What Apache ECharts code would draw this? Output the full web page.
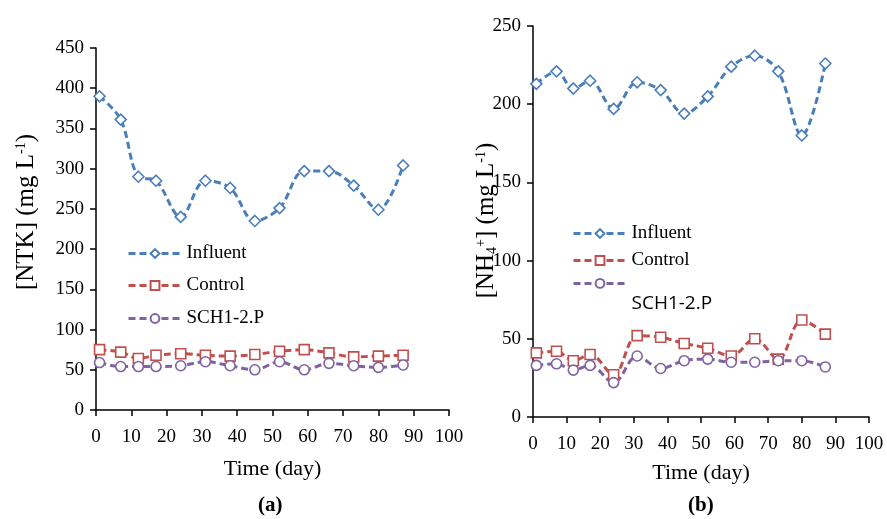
<!DOCTYPE html>
<html>
<head>
<meta charset="utf-8">
<script src="https://cdn.jsdelivr.net/npm/echarts@6/dist/echarts.min.js"></script>
<style>
  html, body { margin: 0; padding: 0; background: #fff; }
  #chart { width: 887px; height: 519px; }
</style>
</head>
<body>
<div id="chart"></div>
<script>
  // sampling days (x), same for both panels
  var days = [1, 7, 12, 17, 24, 31, 38, 45, 52, 59, 66, 73, 80, 87];
  // (a) NTK, mg/L
  var ntkInfluent = [390, 361, 290, 285, 240, 285, 276, 235, 251, 297, 297, 279, 249, 304];
  var ntkControl = [75, 72, 64, 68, 70, 68, 67, 69, 73, 75, 71, 66, 67, 68];
  var ntkSch = [59, 54, 54, 54, 55, 60, 55, 50, 60, 50, 58, 55, 53, 56];
  // (b) NH4+, mg/L
  var nhInfluent = [213, 221, 210, 215, 197, 214, 209, 194, 205, 224, 231, 221, 180, 226];
  var nhControl = [41, 42, 36, 40, 27, 52, 51, 47, 44, 39, 50, 37, 62, 53];
  var nhSch = [33, 34, 30, 33, 22, 39, 31, 36, 37, 35, 35, 36, 36, 32];

  var serif = '"Liberation Serif", "Times New Roman", serif';
  var blue = '#4a7ebb', red = '#c0504d', purple = '#7f63a1';
  var dash = [7, 4];

  function pairs(ys) {
    return days.map(function (d, i) { return [d, ys[i]]; });
  }

  function line(name, ys, color, symbol, size, idx) {
    return {
      name: name,
      type: 'line',
      xAxisIndex: idx,
      yAxisIndex: idx,
      data: pairs(ys),
      smooth: 0.35,
      symbol: symbol,
      symbolSize: size,
      color: color,
      lineStyle: { color: color, width: 3, type: dash },
      itemStyle: { color: '#fff', borderColor: color, borderWidth: 1.6 },
      emphasis: { disabled: true },
      animation: false
    };
  }

  function xAxis(idx) {
    return {
      type: 'value', gridIndex: idx, min: 0, max: 100, interval: 10,
      name: 'Time (day)', nameLocation: 'middle', nameGap: idx === 0 ? 48 : 45,
      nameTextStyle: { fontFamily: serif, fontSize: 22, color: '#000' },
      axisLine: { lineStyle: { color: '#000', width: 1.5 } },
      axisTick: { show: true, length: 6, lineStyle: { color: '#000', width: 1.5 } },
      axisLabel: { fontFamily: serif, fontSize: 19, color: '#000', margin: 18 },
      splitLine: { show: false }
    };
  }

  function yAxis(idx, max, name, gap, shiftUp) {
    return {
      type: 'value', gridIndex: idx, min: 0, max: max, interval: 50,
      name: name, nameLocation: 'middle', nameRotate: 90, nameGap: gap,
      nameMoveOverlap: false,
      nameTextStyle: {
        fontFamily: serif, fontSize: 25, color: '#000',
        padding: [0, 0, 0, shiftUp * 2],
        rich: {
          sup: { fontFamily: serif, fontSize: 14, color: '#000', verticalAlign: 'top', lineHeight: 25 },
          sub: { fontFamily: serif, fontSize: 14, color: '#000', verticalAlign: 'bottom', lineHeight: 25 },
          t: { fontFamily: serif, fontSize: 25, color: '#000', lineHeight: 25 }
        }
      },
      axisLine: { show: true, lineStyle: { color: '#000', width: 1.5 } },
      axisTick: { show: true, length: 6, lineStyle: { color: '#000', width: 1.5 } },
      axisLabel: { fontFamily: serif, fontSize: 19, color: '#000', margin: 12 },
      splitLine: { show: false }
    };
  }

  function legendItem(name, left, cy, rich) {
    var item = {
      data: [name], left: left, top: cy - 11, orient: 'vertical',
      itemWidth: 53, itemHeight: 11, padding: 0,
      selectedMode: false,
      lineStyle: { width: 3, type: dash },
      textStyle: { fontFamily: serif, fontSize: 19, color: '#000' }
    };
    if (rich) {
      item.formatter = '{s|' + name + '}';
      item.textStyle.rich = { s: rich };
    }
    return item;
  }

  var chart = echarts.init(document.getElementById('chart'), null, { renderer: 'canvas' });
  chart.setOption({
    backgroundColor: '#fff',
    animation: false,
    grid: [
      { left: 96, top: 48, width: 353, height: 362 },
      { left: 533, top: 26, width: 336, height: 391 }
    ],
    xAxis: [xAxis(0), xAxis(1)],
    yAxis: [
      yAxis(0, 450, '{t|[NTK] (mg L}{sup|-1}{t|)}', 57, 17),
      yAxis(1, 250, '{t|[NH}{sub|4}{sup|+}{t|] (mg L}{sup|-1}{t|)}', 34, 1)
    ],
    legend: [
      legendItem('Influent', 127, 255),
      legendItem('Control', 127, 287),
      legendItem('SCH1-2.P', 127, 320),
      legendItem('Influent', 572, 235),
      legendItem('Control', 572, 262),
      legendItem('SCH1-2.P', 572, 289, { fontFamily: '"Open Sans", "Noto Sans", sans-serif', fontSize: 19, color: '#000', padding: [40, 0, 0, 0] })
    ],
    graphic: [
      { type: 'text', left: 258, top: 495, style: { text: '(a)', font: 'bold 21px ' + serif, fill: '#000' } },
      { type: 'text', left: 688, top: 495, style: { text: '(b)', font: 'bold 21px ' + serif, fill: '#000' } }
    ],
    series: [
      line('Influent', ntkInfluent, blue, 'diamond', 11, 0),
      line('Control', ntkControl, red, 'rect', 10, 0),
      line('SCH1-2.P', ntkSch, purple, 'circle', 10, 0),
      line('Influent', nhInfluent, blue, 'diamond', 11, 1),
      line('Control', nhControl, red, 'rect', 10, 1),
      line('SCH1-2.P', nhSch, purple, 'circle', 10, 1)
    ]
  });
</script>
</body>
</html>
